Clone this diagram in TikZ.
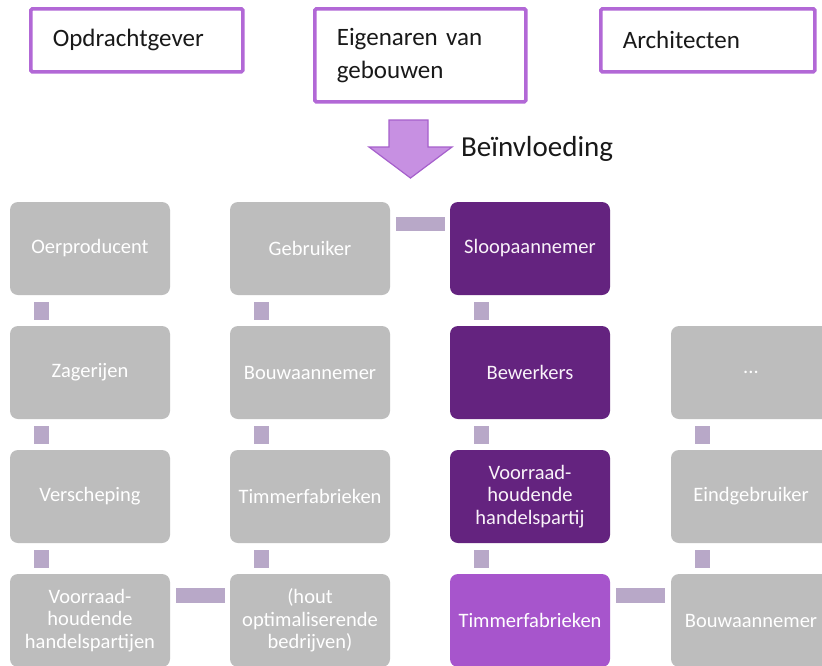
\documentclass[tikz,border=0pt]{standalone}
\usepackage{fontspec}
\setmainfont{Carlito}
\definecolor{boxgray}{HTML}{BDBDBD}
\definecolor{darkpurple}{HTML}{64237F}
\definecolor{lightpurple}{HTML}{A755CC}
\definecolor{connclr}{HTML}{B8A8C8}
\definecolor{topborder}{HTML}{B268D6}
\definecolor{arrowfill}{HTML}{C790E2}
\definecolor{arrowborder}{HTML}{A660CC}
\begin{document}
\begin{tikzpicture}[x=1pt,y=-1pt,
  topbox/.style={draw=topborder, line width=3.6pt, fill=white, rounded corners=1.5pt,
     inner xsep=22pt, inner ysep=0pt, align=left, anchor=north west,
     font=\fontsize{25}{33}\selectfont, text=black!90},
  cell/.style={rounded corners=8pt, minimum width=160pt, minimum height=93pt,
     inner sep=2pt, align=center, text=white, font=\fontsize{20.5}{22.5}\selectfont},
  grayc/.style={cell, fill=boxgray},
  darkc/.style={cell, fill=darkpurple, text=white!95!violet},
  lightc/.style={cell, fill=lightpurple},
  vconn/.style={draw=connclr, line width=15pt},
  hconn/.style={draw=connclr, line width=14.5pt}
]
\path[use as bounding box, clip] (0,0) rectangle (822,665);
\fill[white] (0,0) rectangle (822,665);

% top boxes
\node[topbox, minimum width=212pt, minimum height=63pt, text width=168pt] (opd) at (29,7) {Opdrachtgever};
\node[topbox, minimum width=211pt, minimum height=93pt, text width=167pt] (eig) at (313,7) {Eigenaren van\\gebouwen};
\node[topbox, minimum width=214pt, minimum height=63pt, text width=170pt] (arc) at (599,7) {Architecten};

% influence arrow
\draw[fill=arrowfill, draw=arrowborder, line width=1.2pt, line join=miter]
  (389,120) -- (428,120) -- (428,147) -- (452,147) -- (410.5,178) -- (369,147) -- (389,147) -- cycle;
\node[anchor=west, inner sep=0pt, font=\fontsize{29}{30}\selectfont, text=black!90] (inv) at (461,149) {Beïnvloeding};

% grid
\node[grayc] (a1) at (90,248.5) {Oerproducent};
\node[grayc] (a2) at (90,372.5) {Zagerijen};
\node[grayc] (a3) at (90,496.5) {Verscheping};
\node[grayc] (a4) at (90,620.5) {Voorraad-\\houdende\\handelspartijen};

\node[grayc] (b1) at (310,248.5) {Gebruiker};
\node[grayc] (b2) at (310,372.5) {Bouwaannemer};
\node[grayc] (b3) at (310,496.5) {Timmerfabrieken};
\node[grayc] (b4) at (310,620.5) {(hout\\optimaliserende\\bedrijven)};

\node[darkc] (c1) at (530,248.5) {Sloopaannemer};
\node[darkc] (c2) at (530,372.5) {Bewerkers};
\node[darkc] (c3) at (530,496.5) {Voorraad-\\houdende\\handelspartij};
\node[lightc] (c4) at (530,620.5) {Timmerfabrieken};

\node[grayc] (d2) at (751,372.5) {...};
\node[grayc] (d3) at (751,496.5) {Eindgebruiker};
\node[grayc] (d4) at (751,620.5) {Bouwaannemer};

% vertical connectors
\foreach \p/\q in {a1/a2,a2/a3,a3/a4,b1/b2,b2/b3,b3/b4,c1/c2,c2/c3,c3/c4,d2/d3,d3/d4}{
  \draw[vconn] ([xshift=31.5pt,yshift=-7pt]\p.south west) -- ([xshift=31.5pt,yshift=6pt]\q.north west);
}
% horizontal connectors
\draw[hconn] ([xshift=6pt,yshift=-22pt]b1.north east) -- ([xshift=-5pt,yshift=-22pt]c1.north west);
\draw[hconn] ([xshift=6pt,yshift=-21.5pt]a4.north east) -- ([xshift=-5pt,yshift=-21.5pt]b4.north west);
\draw[hconn] ([xshift=6pt,yshift=-21.5pt]c4.north east) -- ([xshift=-6pt,yshift=-21.5pt]d4.north west);
\end{tikzpicture}
\end{document}
